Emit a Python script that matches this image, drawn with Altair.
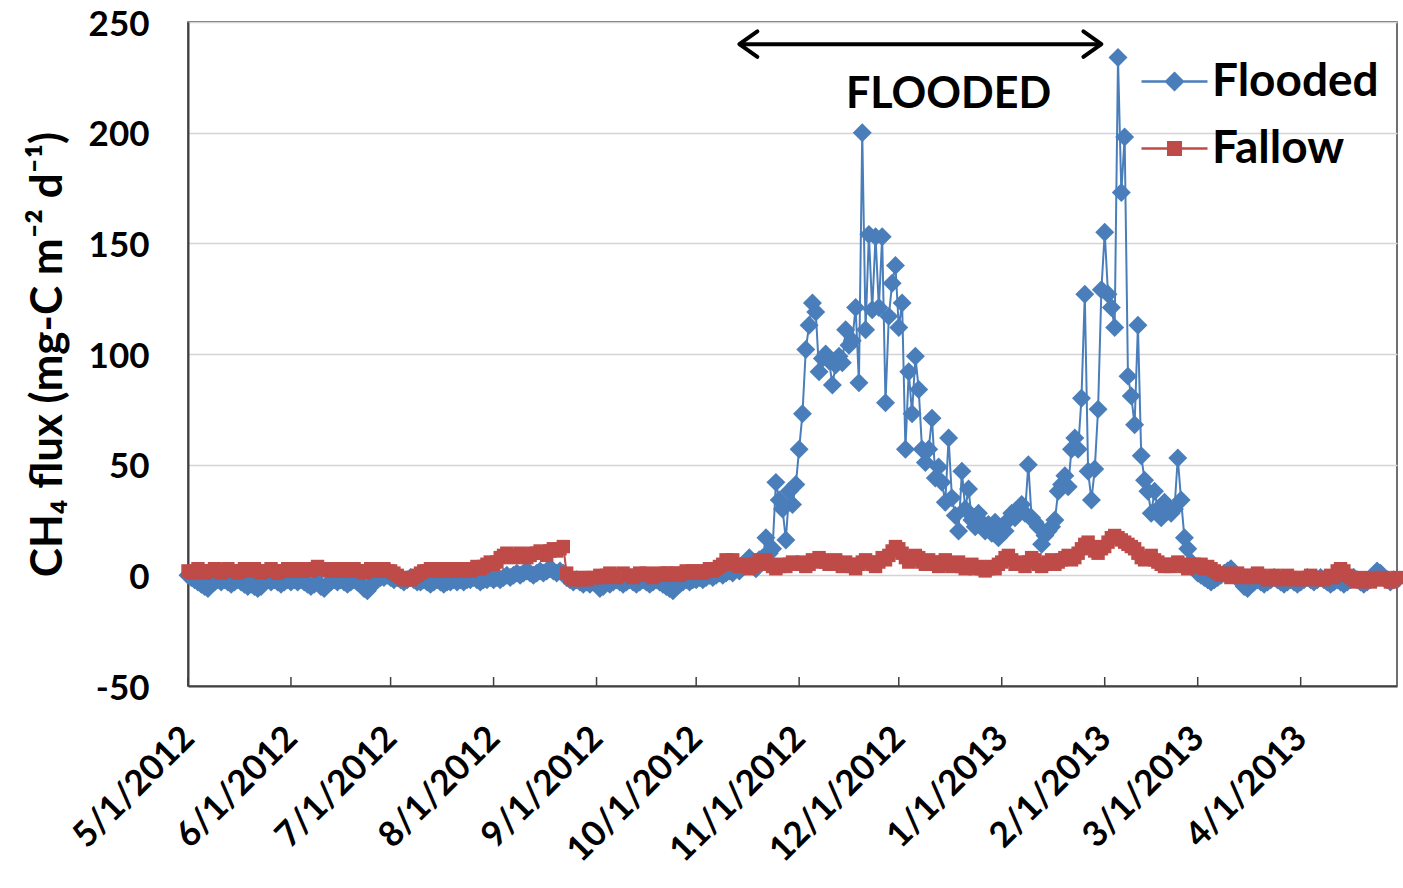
import altair as alt
import pandas as pd

# ---------------- data (daily values) ----------------
MONTH_STARTS = ["2012-05-01", "2012-06-01", "2012-07-01", "2012-08-01", "2012-09-01", "2012-10-01",
                "2012-11-01", "2012-12-01", "2013-01-01", "2013-02-01", "2013-03-01", "2013-04-01"]

FLOODED_MAY = [0, -1, -2, -3, -4, -5, -6, -4, -3, -2, -3, -2, -3, -4, -3, -2, -3, -4, -5, -4, -5, -6, -5, -3, -2, -3, -2, -3, -4, -3, -2]
FLOODED_JUN = [-3, -2, -3, -2, -3, -4, -5, -4, -3, -5, -6, -4, -3, -2, -3, -2, -3, -4, -3, -2, -3, -4, -6, -7, -5, -3, -2, -1, -1, 0]
FLOODED_JUL = [-1, -2, -1, -2, -3, -2, -1, -2, -3, -3, -2, -3, -4, -3, -2, -3, -4, -3, -3, -2, -3, -2, -3, -2, -2, -1, -2, -3, -2, -2, -1]
FLOODED_AUG = [-2, -1, -2, -1, 0, -1, 0, 1, 0, 1, 2, 1, 0, 1, 2, 1, 2, 3, 2, 1, 2, 1, -1, -2, -3, -2, -3, -4, -3, -4, -3]
FLOODED_SEP = [-4, -6, -5, -3, -4, -3, -2, -3, -4, -3, -2, -3, -4, -3, -2, -3, -4, -3, -2, -3, -4, -5, -6, -7, -5, -4, -3, -2, -3, -2]
FLOODED_OCT = [-2, -1, -2, -1, 0, -1, 0, 1, 0, 1, 2, 1, 3, 2, 4, 6, 8, 5, 3, 7, 8, 17, 10, 12, 42, 34, 30, 16, 38, 32, 41]
FLOODED_NOV = [57, 73, 102, 113, 123, 119, 92, 98, 100, 97, 86, 95, 99, 96, 111, 104, 106, 121, 87, 200,
               111, 154, 120, 153, 121, 153, 78, 117, 132, 140]
FLOODED_DEC = [112, 123, 57, 92, 73, 99, 84, 57, 51, 57, 71, 44, 49, 42, 33, 62, 35, 27, 20, 47,
               30, 39, 25, 22, 28, 24, 20, 23, 19, 24, 17]
FLOODED_JAN = [22, 20, 25, 28, 26, 30, 32, 28, 50, 26, 24, 22, 14, 18, 20, 22, 25, 38, 41, 45,
               40, 57, 62, 57, 80, 127, 47, 34, 48, 75, 129]
FLOODED_FEB = [155, 127, 121, 112, 234, 173, 198, 90, 81, 68, 113, 54, 43, 38, 28, 38, 30, 26, 33, 29,
               28, 30, 53, 34, 17, 12, 6, 3]
FLOODED_MAR = [1, 0, -1, -2, -3, -2, -1, 0, 1, 2, 3, 1, -1, -3, -5, -6, -4, -3, -2, -3, -4, -3, -2, -1, -2, -3, -4, -3, -2, -3, -4]
FLOODED_APR = [-3, -2, -1, -2, -3, -2, -1, -2, -3, -4, -3, -2, -3, -4, -3, -2, -1, -2, -3, -4, -3, -2, 0, 2, 1, -1, -2, -3, -2, -2]

FALLOW_MAY = [2, 1, 2, 3, 2, 1, 2, 2, 3, 2, 1, 2, 3, 2, 2, 1, 2, 3, 2, 2, 3, 2, 1, 2, 2, 3, 2, 1, 2, 2, 3]
FALLOW_JUN = [2, 3, 2, 2, 3, 3, 2, 3, 4, 3, 3, 2, 3, 3, 2, 3, 2, 2, 3, 3, 2, 2, 1, 2, 3, 2, 3, 2, 3, 2]
FALLOW_JUL = [2, 1, 0, -1, -2, -1, -2, -1, 0, 1, 2, 2, 3, 2, 2, 3, 2, 3, 2, 2, 3, 3, 2, 3, 2, 3, 4, 3, 4, 5, 6]
FALLOW_AUG = [5, 6, 8, 9, 10, 9, 8, 9, 10, 9, 8, 9, 10, 10, 11, 10, 9, 11, 12, 11, 12, 13, 1, -1, -2, -1, -2, -1, -2, -1, -1]
FALLOW_SEP = [-1, 0, -1, 0, 1, 0, -1, 0, 1, 0, 0, -1, 0, 1, 0, 1, 0, -1, 0, 1, 0, 1, 1, 0, 1, 0, 1, 2, 1, 2]
FALLOW_OCT = [1, 2, 1, 2, 3, 2, 3, 4, 5, 7, 6, 7, 5, 4, 5, 4, 3, 4, 5, 7, 6, 7, 5, 4, 3, 4, 5, 4, 5, 6, 5]
FALLOW_NOV = [5, 6, 4, 5, 7, 6, 8, 7, 6, 5, 6, 7, 5, 4, 6, 5, 4, 3, 5, 6, 7, 6, 5, 4, 6, 8, 7, 9, 11, 13]
FALLOW_DEC = [12, 10, 8, 6, 7, 9, 8, 6, 5, 7, 6, 5, 4, 6, 7, 5, 4, 5, 6, 4, 3, 4, 5, 3, 4, 3, 2, 3, 4, 3, 5]
FALLOW_JAN = [6, 8, 9, 7, 5, 6, 5, 4, 6, 8, 7, 5, 4, 5, 6, 7, 5, 6, 7, 8, 9, 7, 8, 10, 12, 14, 15, 13, 11, 10, 12]
FALLOW_FEB = [13, 15, 17, 18, 17, 16, 15, 14, 13, 12, 10, 8, 7, 8, 9, 7, 6, 5, 4, 5, 4, 5, 6, 5, 4, 3, 4, 5]
FALLOW_MAR = [4, 5, 3, 4, 3, 2, 1, 0, 1, 0, -1, 0, 1, 0, -1, 0, -1, 0, 1, 0, -1, -2, -1, 0, -1, -2, -1, 0, -1, -2, -1]
FALLOW_APR = [-1, -2, -1, 0, -1, -2, -1, -2, -1, 0, -1, 2, 3, 2, 0, -1, -2, -3, -2, -1, -2, -3, -2, -1, -2, -1, -2, -3, -2, -1]

FLOODED = [FLOODED_MAY, FLOODED_JUN, FLOODED_JUL, FLOODED_AUG, FLOODED_SEP, FLOODED_OCT,
           FLOODED_NOV, FLOODED_DEC, FLOODED_JAN, FLOODED_FEB, FLOODED_MAR, FLOODED_APR]
FALLOW = [FALLOW_MAY, FALLOW_JUN, FALLOW_JUL, FALLOW_AUG, FALLOW_SEP, FALLOW_OCT,
          FALLOW_NOV, FALLOW_DEC, FALLOW_JAN, FALLOW_FEB, FALLOW_MAR, FALLOW_APR]

SERIES = ["Flooded", "Fallow"]
Y_TICKS = [-50, 0, 50, 100, 150, 200, 250]

# annotation (arrow spanning the flooded period)
ARROW_START = "2012-10-14"
ARROW_END = "2013-01-31"
ARROW_Y = 240
LABEL_DATE = "2012-12-16"
LABEL_Y = 217
LABEL_TEXT = "FLOODED"

# ---------------- styling ----------------
BLUE = "#4a7ebb"
RED = "#be4b48"
FONT = "Lato"
W, H = 1209, 664

rows = []
for start, fl, fa in zip(MONTH_STARTS, FLOODED, FALLOW):
    s = pd.Timestamp(start)
    for i, v in enumerate(fl):
        rows.append({"date": (s + pd.Timedelta(days=i)).strftime("%Y-%m-%d"), "series": "Flooded", "value": v})
    for i, v in enumerate(fa):
        rows.append({"date": (s + pd.Timedelta(days=i)).strftime("%Y-%m-%d"), "series": "Fallow", "value": v})
df = pd.DataFrame(rows)

x_scale = alt.Scale(type="utc",
                    domain=[alt.DateTime(year=2012, month=5, date=1, utc=True),
                            alt.DateTime(year=2013, month=4, date=30, utc=True)])
y_scale = alt.Scale(domain=[-50, 250], nice=False, zero=False)

x_axis = alt.Axis(format="%-m/%-d/%Y", tickCount={"interval": "month", "step": 1},
                  labelAngle=-45, labelAlign="right", labelBaseline="middle",
                  labelFont=FONT, labelFontWeight="bold", labelFontSize=35, labelColor="black",
                  labelPadding=46, labelOverlap=False, labelFlush=False, labelBound=False,
                  ticks=False, grid=False, domainColor="#404040", domainWidth=2, title=None)
y_axis = alt.Axis(values=Y_TICKS, labelExpr="'' + datum.value", grid=True, gridColor="#d4d4d4",
                  gridWidth=1.5, ticks=False, labelFont=FONT, labelFontWeight="bold",
                  labelFontSize=35, labelColor="black", labelPadding=39, labelOffset=2,
                  domainColor="#404040", domainWidth=2,
                  title="CH₄ flux (mg-C m⁻² d⁻¹)", titleFont=FONT, titleFontSize=44,
                  titleFontWeight="bold", titleColor="black", titlePadding=18)

base = alt.Chart(df).encode(
    x=alt.X("date:T", scale=x_scale, axis=x_axis),
    y=alt.Y("value:Q", scale=y_scale, axis=y_axis),
)

fl_line = base.transform_filter(alt.datum.series == "Flooded").mark_line(color=BLUE, strokeWidth=2)
fl_pts = base.transform_filter(alt.datum.series == "Flooded").mark_point(
    shape="diamond", filled=True, size=360, color=BLUE, opacity=1)
fa_line = base.transform_filter(alt.datum.series == "Fallow").mark_line(color=RED, strokeWidth=2)
fa_pts = base.transform_filter(alt.datum.series == "Fallow").mark_point(
    shape="square", filled=True, size=180, color=RED, opacity=1)

PATH_D = "M -1 0 L 1 0 M 0 -0.25 L 0.25 0 L 0 0.25 L -0.25 0 Z"
PATH_S = "M -1 0 L 1 0 M -0.19 -0.19 L 0.19 -0.19 L 0.19 0.19 L -0.19 0.19 Z"
legend_layer = base.transform_filter("false").mark_point(filled=True, strokeWidth=2.5, opacity=1).encode(
    color=alt.Color("series:N", scale=alt.Scale(domain=SERIES, range=[BLUE, RED]), title=None),
    stroke=alt.Stroke("series:N", scale=alt.Scale(domain=SERIES, range=[BLUE, RED]), title=None),
    shape=alt.Shape("series:N", scale=alt.Scale(domain=SERIES, range=[PATH_D, PATH_S]), title=None),
)

# inward month ticks on the bottom axis
ticks_df = pd.DataFrame({"date": MONTH_STARTS})
month_ticks = alt.Chart(ticks_df).mark_rule(color="#404040", strokeWidth=1.5).encode(
    x=alt.X("date:T"), y=alt.value(H), y2=alt.value(H - 9))

arrow_df = pd.DataFrame({"start": [ARROW_START], "end": [ARROW_END], "y": [ARROW_Y]})
arrow_line = alt.Chart(arrow_df).mark_rule(color="black", strokeWidth=4).encode(
    x="start:T", x2="end:T", y="y:Q")
head_l = alt.Chart(arrow_df).mark_point(
    shape="M 1.2 -0.85 L 0 0 L 1.2 0.85", filled=False, size=900, color="black",
    strokeWidth=4, opacity=1, strokeCap="round", strokeJoin="round").encode(x="start:T", y="y:Q")
head_r = alt.Chart(arrow_df).mark_point(
    shape="M -1.2 -0.85 L 0 0 L -1.2 0.85", filled=False, size=900, color="black",
    strokeWidth=4, opacity=1, strokeCap="round", strokeJoin="round").encode(x="end:T", y="y:Q")

label_df = pd.DataFrame({"date": [LABEL_DATE], "y": [LABEL_Y], "text": [LABEL_TEXT]})
label = alt.Chart(label_df).mark_text(font=FONT, fontSize=43, fontWeight="bold", color="black").encode(
    x="date:T", y="y:Q", text="text:N")

chart = alt.layer(
    fl_line, fl_pts, fa_line, fa_pts, month_ticks, arrow_line, head_l, head_r, label, legend_layer
).properties(
    width=W, height=H,
    autosize=alt.AutoSizeParams(type="none"),
    padding={"left": 188, "top": 22, "right": 6, "bottom": 202},
).configure_view(
    stroke="#404040", strokeWidth=1.5
).configure_legend(
    orient="none", legendX=952, legendY=25, padding=0, rowPadding=9,
    labelFont=FONT, labelFontWeight="bold", labelFontSize=46, labelColor="black", labelLimit=0,
    labelOffset=3, symbolSize=4356, symbolStrokeWidth=2.5, symbolOpacity=1, title=None
)

chart.save("out.html", embed_options={"renderer": "svg", "actions": False})
